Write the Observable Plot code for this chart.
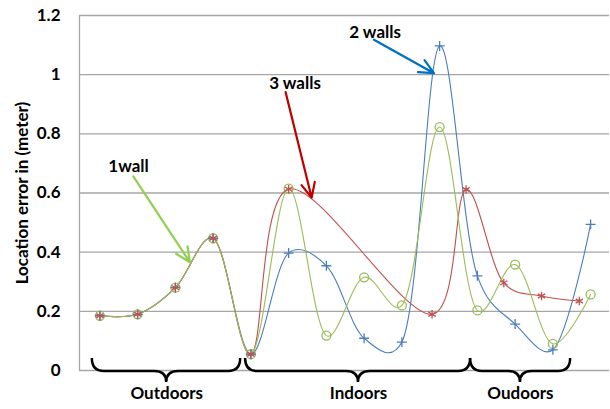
<!DOCTYPE html>
<html>
<head>
<meta charset="utf-8">
<script src="https://cdn.jsdelivr.net/npm/d3@7"></script>
<script src="https://cdn.jsdelivr.net/npm/@observablehq/plot@0.6"></script>
<style>
  html, body { margin: 0; padding: 0; background: #fff; }
  #chart svg { display: block; }
</style>
</head>
<body>
<div id="chart"></div>
<script>
// ---- data ----
const xIndex = [0, 1, 2, 3, 4, 5, 6, 7, 8, 9, 10, 11, 12, 13];
const walls2 = [0.185, 0.19, 0.28, 0.447, 0.055, 0.397, 0.354, 0.109, 0.096, 1.097, 0.32, 0.157, 0.07, 0.494];
const walls1 = [0.185, 0.19, 0.28, 0.447, 0.055, 0.615, 0.118, 0.315, 0.22, 0.823, 0.203, 0.358, 0.09, 0.257];
const walls3X = [0, 1, 2, 3, 4, 5, 8.8, 9.7, 10.7, 11.7, 12.7];
const walls3 = [0.185, 0.19, 0.28, 0.447, 0.055, 0.613, 0.19, 0.612, 0.296, 0.252, 0.235];
const yTicks = [0, 0.2, 0.4, 0.6, 0.8, 1, 1.2];

const annotations = [
  { label: "1wall",   tx: 0.76, ty: 0.69,  x1: 0.885, y1: 0.656, x2: 2.384, y2: 0.366, color: "#92D050" },
  { label: "3 walls", tx: 5.17, ty: 0.97,  x1: 4.92,  y1: 0.941, x2: 5.61,  y2: 0.584, color: "#C00000" },
  { label: "2 walls", tx: 7.29, ty: 1.144, x1: 7.26,  y1: 1.118, x2: 8.85,  y2: 1.005, color: "#0070C0" }
];
const groups = [
  { label: "Outdoors", start: -0.2, end: 3.73, mid: 1.77 },
  { label: "Indoors",  start: 3.86, end: 9.82, mid: 6.85 },
  { label: "Oudoors",  start: 9.82, end: 12.47, mid: 11.14 }
];

const blue = "#4A7EBB", red = "#C0504D", green = "#9BBB59";
const font = "Lato, 'Open Sans', sans-serif";

const s2 = xIndex.map((x, i) => ({ x, y: walls2[i] }));
const s1 = xIndex.map((x, i) => ({ x, y: walls1[i] }));
const s3 = walls3X.map((x, i) => ({ x, y: walls3[i] }));

// custom mark: curly braces below the axis
function braces(index, scales) {
  const g = document.createElementNS("http://www.w3.org/2000/svg", "g");
  const y0 = scales.y(0);
  const yTop = y0 - 12, yBody = y0 + 1, yTip = y0 + 12, r = 12;
  for (const b of groups) {
    const a = scales.x(b.start), c = scales.x(b.end), m = scales.x(b.mid);
    const d = `M${a},${yTop} Q${a},${yBody} ${a + r},${yBody} L${m - r},${yBody} Q${m},${yBody} ${m},${yTip}` +
              ` Q${m},${yBody} ${m + r},${yBody} L${c - r},${yBody} Q${c},${yBody} ${c},${yTop}`;
    const p = document.createElementNS("http://www.w3.org/2000/svg", "path");
    p.setAttribute("d", d);
    p.setAttribute("fill", "none");
    p.setAttribute("stroke", "#000");
    p.setAttribute("stroke-width", "2.5");
    g.appendChild(p);
  }
  return g;
}

const curve = { curve: "catmull-rom", tension: 0.25 };

const chart = Plot.plot({
  width: 610,
  height: 409,
  marginLeft: 79,
  marginRight: 1,
  marginTop: 15,
  marginBottom: 39,
  style: { fontFamily: font, background: "#fff" },
  x: { domain: [-0.54, 13.5], axis: null },
  y: { domain: [0, 1.2] },
  marks: [
    Plot.ruleY(yTicks, { stroke: "#A6A6A6", strokeWidth: 1.3 }),
    Plot.ruleX([-0.54], { y1: 0, y2: 1.2, stroke: "#A6A6A6", strokeWidth: 1.3 }),
    Plot.axisY(yTicks, {
      tickSize: 0, tickPadding: 19, fontSize: 17, fontWeight: "bold", fill: "#000",
      tickFormat: d => String(d),
      label: "Location error in (meter)", labelAnchor: "center", labelArrow: "none", labelOffset: 64
    }),
    Plot.line(s2, { x: "x", y: "y", ...curve, stroke: blue, strokeWidth: 1.1 }),
    Plot.line(s3, { x: "x", y: "y", ...curve, stroke: red, strokeWidth: 1.1 }),
    Plot.line(s1, { x: "x", y: "y", ...curve, stroke: green, strokeWidth: 1.1 }),
    Plot.dot(s1, { x: "x", y: "y", symbol: "circle", r: 4.5, stroke: green, strokeWidth: 1.3, fill: "none" }),
    Plot.dot(s2, { x: "x", y: "y", symbol: "plus", r: 3.3, stroke: blue, strokeWidth: 1.3 }),
    Plot.dot(s3, { x: "x", y: "y", symbol: "asterisk", r: 4, stroke: red, strokeWidth: 1.3 }),
    Plot.arrow(annotations, { x1: "x1", y1: "y1", x2: "x2", y2: "y2", stroke: "color", strokeWidth: 2.2, headLength: 11, headAngle: 50 }),
    Plot.text(annotations, { x: "tx", y: "ty", text: "label", fontSize: 17, fontWeight: "bold", fill: "#000" }),
    braces,
    Plot.text(groups, { x: "mid", y: () => 0, dy: 23, text: "label", fontSize: 17, fontWeight: "bold", fill: "#000" })
  ]
});
chart.querySelectorAll("[aria-label='y-axis label'] text, [aria-label='y-axis label']").forEach(e => {
  e.setAttribute("font-size", "17"); e.setAttribute("font-weight", "bold"); e.style.fill = "#000";
});
document.getElementById("chart").appendChild(chart);
</script>
</body>
</html>
